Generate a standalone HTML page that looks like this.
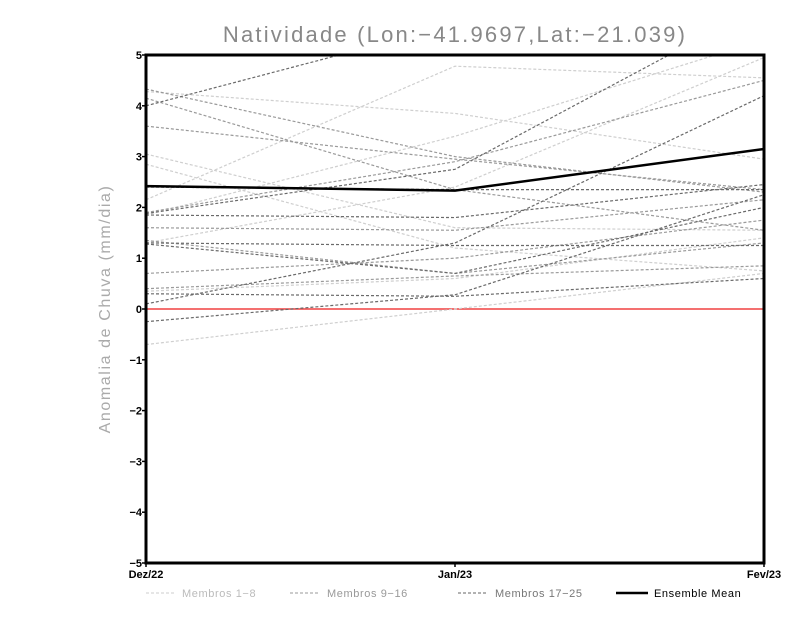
<!DOCTYPE html>
<html><head><meta charset="utf-8"><style>
body{margin:0;background:#fff;width:800px;height:618px;overflow:hidden;font-family:"Liberation Sans",sans-serif}
</style></head><body>
<svg id="chart" width="800" height="618" xmlns="http://www.w3.org/2000/svg">
<defs><clipPath id="clip"><rect x="146" y="55" width="618" height="508"/></clipPath></defs>
<text x="455" y="42" text-anchor="middle" font-size="22" fill="#888" letter-spacing="2.2" font-family="Liberation Sans, sans-serif">Natividade (Lon:−41.9697,Lat:−21.039)</text>
<text transform="translate(110,309) rotate(-90)" text-anchor="middle" font-size="16" fill="#aaa" letter-spacing="1.6">Anomalia de Chuva (mm/dia)</text>
<g id="series" clip-path="url(#clip)"></g>
<rect x="146" y="55" width="618" height="508" fill="none" stroke="#000" stroke-width="3"/>
<g id="axes"></g>
<g font-size="11" letter-spacing="0.6">
<line x1="146" y1="593" x2="176" y2="593" stroke="#ccc" stroke-dasharray="3,2"/>
<text x="182" y="597" fill="#bbb">Membros 1−8</text>
<line x1="290" y1="593" x2="320" y2="593" stroke="#999" stroke-dasharray="3,2"/>
<text x="327" y="597" fill="#999">Membros 9−16</text>
<line x1="458" y1="593" x2="488" y2="593" stroke="#666" stroke-dasharray="3,2"/>
<text x="495" y="597" fill="#777">Membros 17−25</text>
<line x1="616" y1="593" x2="648" y2="593" stroke="#000" stroke-width="2.5"/>
<text x="654" y="597" fill="#000">Ensemble Mean</text>
</g>
</svg>
<script>
const categories=["Dez/22","Jan/23","Fev/23"];
const yTicks=[5,4,3,2,1,0,-1,-2,-3,-4,-5];
const membersLight=[[4.28,3.85,2.95],[3.05,1.6,1.55],[2.85,1.2,0.75],[2.15,4.78,4.55],[1.85,3.4,5.3],[-0.7,0.0,0.7],[0.35,0.6,1.4],[1.3,2.4,4.95]];
const membersMid=[[4.33,3.0,2.3],[1.9,2.9,4.5],[3.6,2.95,2.35],[1.6,1.55,2.15],[1.35,0.7,1.3],[0.4,0.65,0.85],[4.15,2.35,1.55],[0.7,1.0,1.75]];
const membersDark=[[4.0,5.6,6.5],[1.88,2.75,6.0],[1.85,1.8,2.45],[0.1,1.3,4.2],[-0.25,0.28,2.25],[1.3,1.25,1.25],[1.28,0.7,2.0],[2.4,2.35,2.35],[0.3,0.25,0.6]];
const ensembleMean=[2.42,2.33,3.15];
const X0=146,X1=764,Y0=55,Y1=563;
function xs(i){return X0+(X1-X0)*i/(categories.length-1);}
function ys(v){return Y1-(v+5)/10*(Y1-Y0);}
const NS="http://www.w3.org/2000/svg";
const g=document.getElementById('series');
const ax=document.getElementById('axes');
function mk(tag,attrs,parent){const e=document.createElementNS(NS,tag);for(const k in attrs)e.setAttribute(k,attrs[k]);parent.appendChild(e);return e;}
const zl=mk('line',{x1:X0,x2:X1,y1:ys(0),y2:ys(0),stroke:'#f04040','stroke-width':1.5},g);


function drawGroup(arr,color,name){arr.forEach((s,j)=>{const p=mk('polyline',{points:s.map((v,i)=>xs(i)+','+ys(v)).join(' '),fill:'none',stroke:color,'stroke-width':1.2,'stroke-dasharray':'3,2'},g);

});}
drawGroup(membersLight,'#cfcfcf','member-light');
drawGroup(membersMid,'#9a9a9a','member-mid');
drawGroup(membersDark,'#6a6a6a','member-dark');
const m=mk('polyline',{points:ensembleMean.map((v,i)=>xs(i)+','+ys(v)).join(' '),fill:'none',stroke:'#000','stroke-width':2.5},g);


yTicks.forEach(v=>{mk('line',{x1:X0-4,x2:X0,y1:ys(v),y2:ys(v),stroke:'#000','stroke-width':1.5},ax);
const t=mk('text',{x:X0-4,y:ys(v)+4,'text-anchor':'end','font-size':11,'font-weight':'bold',fill:'#000'},ax);t.textContent=String(v).replace('-','−');

});
categories.forEach((c,i)=>{mk('line',{x1:xs(i),x2:xs(i),y1:Y1,y2:Y1+4,stroke:'#000','stroke-width':1.5},ax);
const t=mk('text',{x:xs(i),y:Y1+15,'text-anchor':'middle','font-size':11,'font-weight':'bold',fill:'#000'},ax);t.textContent=c;

});
</script>
</body></html>
